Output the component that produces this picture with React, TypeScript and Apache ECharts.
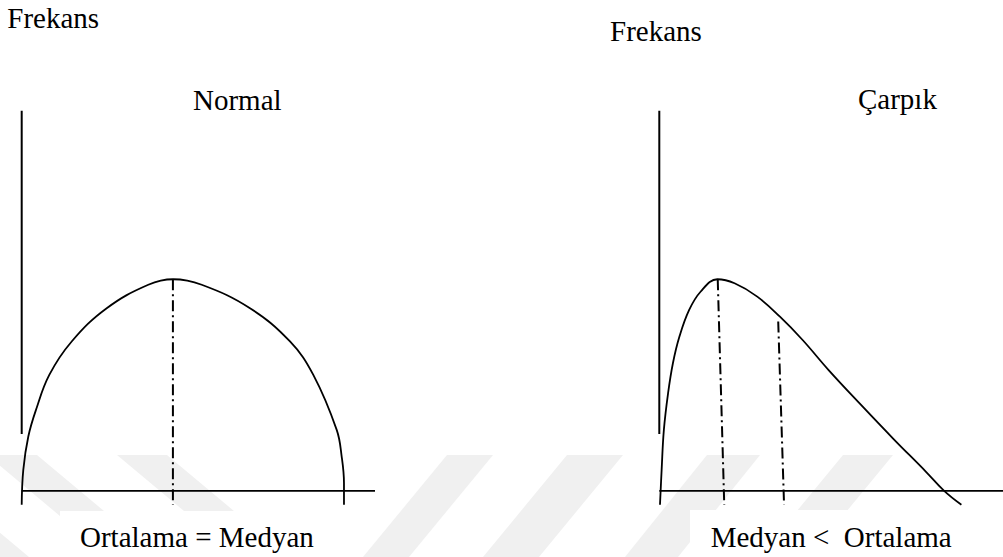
import React, { useEffect, useRef } from 'react';
import * as echarts from 'echarts';

// Values in panel units: x along the horizontal axis (0..10), y = frequency (peak = 10)
const normalCurve: [number, number][] = [
  [0.0, -0.66], [0.045, 0.99], [0.187, 2.57], [0.405, 3.83], [0.781, 5.48],
  [1.415, 7.06], [2.406, 8.63], [3.583, 9.74], [4.285, 10.0], [5.095, 9.74],
  [6.462, 8.63], [7.594, 7.06], [8.254, 5.48], [8.916, 2.88],
  [9.057, 1.62], [9.122, 0.36], [9.122, -0.66],
];
const skewedCurve: [number, number][] = [
  [0.02, -0.66], [0.068, 0.99], [0.133, 2.88], [0.255, 4.61], [0.396, 6.03],
  [0.586, 7.29], [0.869, 8.55], [1.2, 9.41], [1.69, 10.0], [2.19, 9.81],
  [2.85, 9.18], [3.51, 8.23], [4.17, 7.13], [4.92, 5.72], [5.87, 4.06],
  [6.81, 2.46], [7.76, 0.9], [8.28, 0.01], [8.79, -0.66],
];
const normalCentreLine: [number, number][] = [[4.28, 10.0], [4.28, -0.66]];
const skewModeLine: [number, number][] = [[1.7, 10.0], [1.89, -0.66]];
const skewMeanLine: [number, number][] = [[3.46, 8.0], [3.63, -0.66]];
const frequencyAxis: [number, number][] = [[0, 2.69], [0, 17.96]];
const baseAxis: [number, number][] = [[0, 0], [10, 0]];

const axisName = 'Frekans';
const panelTitles = ['Normal', 'Çarpık'];
const captions = ['Ortalama = Medyan', 'Medyan <  Ortalama'];

const FONT = '29px "Liberation Serif", "Times New Roman", serif';
const WM = '#f0f0f0';

export default function App() {
  const ref = useRef<HTMLDivElement>(null);
  useEffect(() => {
    document.body.style.margin = '0';
    if (!ref.current) return;
    const chart = echarts.init(ref.current, undefined, { renderer: 'svg' });

    const lineSeries = (grid: number, data: [number, number][], width: number, dash?: number[]) => ({
      type: 'line',
      xAxisIndex: grid,
      yAxisIndex: grid,
      data,
      showSymbol: false,
      symbol: 'none',
      smooth: dash ? false : 0.4,
      clip: false,
      silent: true,
      lineStyle: { color: '#000', width, type: dash || 'solid', cap: 'butt' },
      z: 5,
    });

    const text = (t: string, x: number, baseline: number) => ({
      type: 'text',
      z: 20,
      style: { text: t, x, y: baseline - 9.8, font: FONT, fill: '#000', verticalAlign: 'middle', align: 'left' },
    });

    const dash = [11, 4, 2, 4];

    chart.setOption({
      animation: false,
      backgroundColor: '#fff',
      grid: [
        { left: 21.7, top: 110, width: 353.3, height: 402 },
        { left: 659.3, top: 110, width: 353.3, height: 402 },
      ],
      xAxis: [
        { type: 'value', gridIndex: 0, min: 0, max: 10, show: false },
        { type: 'value', gridIndex: 1, min: 0, max: 10, show: false },
      ],
      yAxis: [
        { type: 'value', gridIndex: 0, min: -1, max: 18, show: false },
        { type: 'value', gridIndex: 1, min: -1, max: 18, show: false },
      ],
      graphic: [
        // faint background watermark
        { type: 'polygon', z: -10, silent: true, shape: { points: [[-143, 455], [-93, 455], [29, 557], [-21, 557]] }, style: { fill: WM } },
        { type: 'polygon', z: -10, silent: true, shape: { points: [[-13, 455], [37, 455], [159, 557], [109, 557]] }, style: { fill: WM } },
        { type: 'polygon', z: -10, silent: true, shape: { points: [[117, 455], [167, 455], [289, 557], [239, 557]] }, style: { fill: WM } },
        { type: 'polygon', z: -10, silent: true, shape: { points: [[447, 455], [493, 455], [409, 557], [363, 557]] }, style: { fill: WM } },
        { type: 'polygon', z: -10, silent: true, shape: { points: [[567, 455], [623, 455], [539, 557], [483, 557]] }, style: { fill: WM } },
        { type: 'polygon', z: -10, silent: true, shape: { points: [[707, 455], [760, 455], [678, 557], [625, 557]] }, style: { fill: WM } },
        { type: 'polygon', z: -10, silent: true, shape: { points: [[843, 455], [893, 455], [809, 557], [759, 557]] }, style: { fill: WM } },
        // white caption boxes
        { type: 'rect', z: -5, silent: true, shape: { x: 60, y: 511, width: 302, height: 46 }, style: { fill: '#fff' } },
        { type: 'rect', z: -5, silent: true, shape: { x: 690, y: 510, width: 313, height: 47 }, style: { fill: '#fff' } },
        text(axisName, 7.3, 28),
        text(panelTitles[0], 193, 109.5),
        text(axisName, 610, 40.3),
        text(panelTitles[1], 858, 108.5),
        text(captions[0], 80, 547),
        text(captions[1], 710.7, 547),
      ],
      series: [
        lineSeries(0, frequencyAxis, 2),
        lineSeries(0, baseAxis, 1.8),
        lineSeries(0, normalCurve, 1.8),
        lineSeries(0, normalCentreLine, 2, dash),
        lineSeries(1, frequencyAxis, 2),
        lineSeries(1, baseAxis, 1.8),
        lineSeries(1, skewedCurve, 1.8),
        lineSeries(1, skewModeLine, 2, dash),
        lineSeries(1, skewMeanLine, 2, dash),
      ],
    });
    return () => chart.dispose();
  }, []);
  return <div ref={ref} style={{ width: 1003, height: 557 }} />;
}
